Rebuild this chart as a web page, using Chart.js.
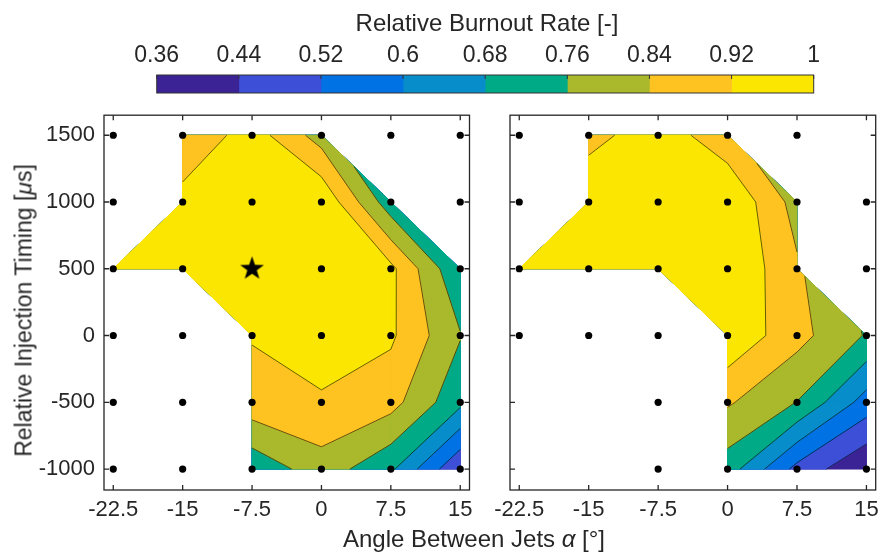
<!DOCTYPE html>
<html>
<head>
<meta charset="utf-8">
<script src="https://cdn.jsdelivr.net/npm/chart.js@4.4.0/dist/chart.umd.min.js"></script>
<style>
  html, body { margin: 0; padding: 0; background: #fff; }
  body { width: 878px; height: 552px; position: relative; overflow: hidden;
         font-family: "Liberation Sans", Arial, sans-serif; color: #262626; }
  canvas { position: absolute; }
  #cbar { left: 0; top: 0; }
  #left { left: 0; top: 93px; }
  #right { left: 480px; top: 93px; }
  .title { position: absolute; font-size: 24px; line-height: 24px; white-space: nowrap; text-align: center; }
  #xtitle { left: 274px; width: 400px; top: 527px; }
  #ytitle { left: -176.3px; width: 400px; top: 298.5px; font-size: 23px; line-height: 23px; transform: rotate(-90deg); }
  #ctitle { left: 287px; width: 400px; top: 11px; }
</style>
</head>
<body>
<canvas id="cbar" width="878" height="100"></canvas>
<canvas id="left" width="490" height="459"></canvas>
<canvas id="right" width="410" height="459"></canvas>
<div class="title" id="ctitle">Relative Burnout Rate [-]</div>
<div class="title" id="ytitle">Relative Injection Timing [<i>μ</i>s]</div>
<div class="title" id="xtitle">Angle Between Jets <i>α</i> [°]</div>
<script>
// grid of the measurements
const xValues = [-22.5, -15, -7.5, 0, 7.5, 15];
const yValues = [1500, 1000, 500, 0, -500, -1000];

// relative burnout rate on the grid (rows = yValues, cols = xValues), null = no data
const rateLeft = [
  [null, 0.85, 0.96, 0.804, null, null],
  [null, 0.95, 0.99, 0.99, 0.71, null],
  [0.95, 0.97, 1.00, 0.99, 0.94, 0.685],
  [null, null, 0.925, 0.964, 0.933, 0.765],
  [null, null, 0.89, 0.91, 0.87, 0.70],
  [null, null, 0.70, 0.805, 0.695, 0.445]
];
const rateRight = [
  [null, 0.89, 0.97, 0.864, null, null],
  [null, 0.99, 1.00, 0.997, 0.807, null],
  [0.96, 0.98, 1.00, 1.00, 0.851, null],
  [null, null, null, 0.985, 0.867, 0.753],
  [null, null, null, 0.85, 0.758, 0.565],
  [null, null, null, 0.72, 0.495, 0.365]
];

// operating points shown as dots
const dotRowsLeft = [
  [1500, [-22.5, -15, -7.5, 0, 7.5, 15]],
  [1000, [-22.5, -15, -7.5, 0, 7.5, 15]],
  [500, [-22.5, -15, -7.5, 0, 7.5, 15]],
  [0, [-22.5, -15, -7.5, 0, 7.5, 15]],
  [-500, [-22.5, -15, -7.5, 0, 7.5, 15]],
  [-1000, [-22.5, -15, -7.5, 0, 7.5, 15]]
];
const dotRowsRight = [
  [1500, [-22.5, -15, -7.5, 0, 7.5]],
  [1000, [-22.5, -15, -7.5, 0, 7.5, 15]],
  [500, [-22.5, -15, -7.5, 0, 7.5, 15]],
  [0, [-22.5, -15, -7.5, 0, 7.5, 15]],
  [-500, [-7.5, 0, 7.5, 15]],
  [-1000, [-7.5, 0, 7.5, 15]]
];
const bestPoint = [-7.5, 500];

const levels = [0.36, 0.44, 0.52, 0.60, 0.68, 0.76, 0.84, 0.92, 1.00];
const levelLabels = ['0.36', '0.44', '0.52', '0.6', '0.68', '0.76', '0.84', '0.92', '1'];
const bandColors = ['#3b2395', '#3e4fd7', '#0072e3', '#078dca', '#00aa87', '#a9b92b', '#fec321', '#fbe601'];

const xTicks = [-22.5, -15, -7.5, 0, 7.5, 15];
const xTickLabels = ['-22.5', '-15', '-7.5', '0', '7.5', '15'];
const yTicks = [-1000, -500, 0, 500, 1000, 1500];
const yTickLabels = ['-1000', '-500', '0', '500', '1000', '1500'];

Chart.defaults.font.family = '"Liberation Sans", Arial, sans-serif';
Chart.defaults.color = '#262626';

const AXIS = '#262626';

function toPoints(rows) {
  const pts = [];
  rows.forEach(([y, xs]) => xs.forEach(x => pts.push({ x, y })));
  return pts;
}

// cells of the grid as polygons (triangles where one corner has no data)
function cellPolys(grid) {
  const polys = [];
  for (let r = 0; r < yValues.length - 1; r++) {
    for (let c = 0; c < xValues.length - 1; c++) {
      const p = [[r, c], [r, c + 1], [r + 1, c + 1], [r + 1, c]]
        .filter(([i, j]) => grid[i][j] != null)
        .map(([i, j]) => ({ x: xValues[j], y: yValues[i], z: grid[i][j] }));
      if (p.length >= 3) polys.push(p);
    }
  }
  return polys;
}

function lerp(a, b, L) {
  const t = (L - a.z) / (b.z - a.z);
  return { x: a.x + t * (b.x - a.x), y: a.y + t * (b.y - a.y), z: L };
}

// keep the part of the polygon where z >= L
function clipAbove(poly, L) {
  const out = [];
  for (let i = 0; i < poly.length; i++) {
    const cur = poly[i], prev = poly[(i + poly.length - 1) % poly.length];
    const cIn = cur.z >= L, pIn = prev.z >= L;
    if (cIn) {
      if (!pIn) out.push(lerp(prev, cur, L));
      out.push(cur);
    } else if (pIn) {
      out.push(lerp(prev, cur, L));
    }
  }
  return out;
}

function contourPlugin(grid) {
  const polys = cellPolys(grid);
  return {
    id: 'contour',
    beforeDatasetsDraw(chart) {
      const { ctx, scales: { x, y } } = chart;
      const px = p => [x.getPixelForValue(p.x), y.getPixelForValue(p.y)];
      ctx.save();
      ctx.lineJoin = 'round';
      bandColors.forEach((col, b) => {
        ctx.fillStyle = col;
        ctx.strokeStyle = col;
        ctx.lineWidth = 1;
        polys.forEach(cell => {
          const p = b === 0 ? cell : clipAbove(cell, levels[b]);
          if (p.length < 3) return;
          ctx.beginPath();
          p.forEach((v, i) => { const [X, Y] = px(v); i ? ctx.lineTo(X, Y) : ctx.moveTo(X, Y); });
          ctx.closePath();
          ctx.fill();
          ctx.stroke();
        });
      });
      // contour lines between bands
      ctx.strokeStyle = 'rgba(0,0,0,0.85)';
      ctx.lineWidth = 0.7;
      levels.slice(1, -1).forEach(L => {
        polys.forEach(cell => {
          const cross = [];
          for (let i = 0; i < cell.length; i++) {
            const a = cell[i], b = cell[(i + 1) % cell.length];
            if ((a.z - L) * (b.z - L) < 0) cross.push(lerp(a, b, L));
          }
          for (let k = 0; k + 1 < cross.length; k += 2) {
            const [x1, y1] = px(cross[k]), [x2, y2] = px(cross[k + 1]);
            ctx.beginPath();
            ctx.moveTo(x1, y1);
            ctx.lineTo(x2, y2);
            ctx.stroke();
          }
        });
      });
      ctx.restore();
    }
  };
}

// box with inward ticks on all four sides, like the original figure
const framePlugin = {
  id: 'frame',
  afterDraw(chart) {
    const { ctx, chartArea: a, scales: { x, y } } = chart;
    ctx.save();
    ctx.strokeStyle = AXIS;
    ctx.lineWidth = 1.3;
    ctx.beginPath();
    xTicks.forEach(v => {
      const X = x.getPixelForValue(v);
      ctx.moveTo(X, a.bottom); ctx.lineTo(X, a.bottom - 5);
      ctx.moveTo(X, a.top); ctx.lineTo(X, a.top + 5);
    });
    yTicks.forEach(v => {
      const Y = y.getPixelForValue(v);
      ctx.moveTo(a.left, Y); ctx.lineTo(a.left + 5, Y);
      ctx.moveTo(a.right, Y); ctx.lineTo(a.right - 5, Y);
    });
    ctx.stroke();
    ctx.strokeRect(a.left, a.top, a.right - a.left, a.bottom - a.top);
    ctx.restore();
  }
};

function makeStar(R) {
  const s = Math.ceil(R * 2) + 2;
  const c = document.createElement('canvas');
  c.width = c.height = s;
  const g = c.getContext('2d');
  g.translate(s / 2, s / 2);
  g.beginPath();
  for (let i = 0; i < 10; i++) {
    const r = i % 2 ? R * 0.4 : R;
    const ang = -Math.PI / 2 + i * Math.PI / 5;
    const X = r * Math.cos(ang), Y = r * Math.sin(ang);
    i ? g.lineTo(X, Y) : g.moveTo(X, Y);
  }
  g.closePath();
  g.fillStyle = '#000';
  g.fill();
  return c;
}

function panel(id, grid, dotRows, withLabels) {
  const datasets = [{
    data: toPoints(dotRows),
    pointRadius: 3.6,
    pointBackgroundColor: '#000',
    pointBorderWidth: 0
  }];
  if (withLabels) {
    datasets.push({
      data: [{ x: bestPoint[0], y: bestPoint[1] }],
      pointStyle: makeStar(12.5),
      pointRadius: 12
    });
  }
  new Chart(document.getElementById(id), {
    type: 'scatter',
    data: { datasets },
    options: {
      responsive: false,
      animation: false,
      layout: { padding: withLabels ? { top: 0, right: 20.5 } : { top: 22.2, right: 14.3 } },
      plugins: { legend: { display: false }, tooltip: { enabled: false } },
      scales: {
        x: {
          type: 'linear', min: -23.5, max: 16,
          grid: { display: false, drawTicks: false },
          border: { display: false },
          afterBuildTicks: s => { s.ticks = xTicks.map(v => ({ value: v })); },
          afterFit: s => { s.height = 62; },
          ticks: {
            autoSkip: false, maxRotation: 0, minRotation: 0, padding: 7,
            font: { size: 22 },
            callback: (v, i) => xTickLabels[i]
          }
        },
        y: {
          type: 'linear', min: -1157, max: 1650,
          grid: { display: false, drawTicks: false },
          border: { display: false },
          afterBuildTicks: s => { s.ticks = yTicks.map(v => ({ value: v })); },
          afterFit: s => { s.width = withLabels ? 104 : 30; },
          ticks: {
            display: withLabels, padding: 9,
            font: { size: 22 },
            callback: (v, i) => yTickLabels[i]
          }
        }
      }
    },
    plugins: [contourPlugin(grid), framePlugin]
  });
}

panel('left', rateLeft, dotRowsLeft, true);
panel('right', rateRight, dotRowsRight, false);

// colour bar
const cbarFrame = {
  id: 'cbarFrame',
  afterDraw(chart) {
    const { ctx, chartArea: a, scales: { x } } = chart;
    ctx.save();
    ctx.strokeStyle = '#333';
    ctx.lineWidth = 1;
    ctx.beginPath();
    levels.forEach(v => {
      const X = x.getPixelForValue(v);
      ctx.moveTo(X, a.top); ctx.lineTo(X, a.top + 4);
    });
    ctx.stroke();
    ctx.strokeRect(a.left, a.top, a.right - a.left, a.bottom - a.top);
    ctx.restore();
  }
};

new Chart(document.getElementById('cbar'), {
  type: 'bar',
  data: {
    labels: [''],
    datasets: bandColors.map((c, i) => ({
      data: [[levels[i], levels[i + 1]]],
      backgroundColor: c,
      borderWidth: 0,
      grouped: false,
      barPercentage: 1,
      categoryPercentage: 1
    }))
  },
  options: {
    indexAxis: 'y',
    responsive: false,
    animation: false,
    layout: { padding: { left: 156.7, right: 64.3, bottom: 7 } },
    plugins: { legend: { display: false }, tooltip: { enabled: false } },
    scales: {
      x: {
        type: 'linear', position: 'top', min: 0.36, max: 1,
        grid: { display: false, drawTicks: false },
        border: { display: false },
        afterBuildTicks: s => { s.ticks = levels.map(v => ({ value: v })); },
        afterFit: s => { s.height = 75; },
        ticks: {
          autoSkip: false, maxRotation: 0, minRotation: 0, padding: 6,
          font: { size: 23 },
          callback: (v, i) => levelLabels[i]
        }
      },
      y: { display: false }
    }
  },
  plugins: [cbarFrame]
});
</script>
</body>
</html>
